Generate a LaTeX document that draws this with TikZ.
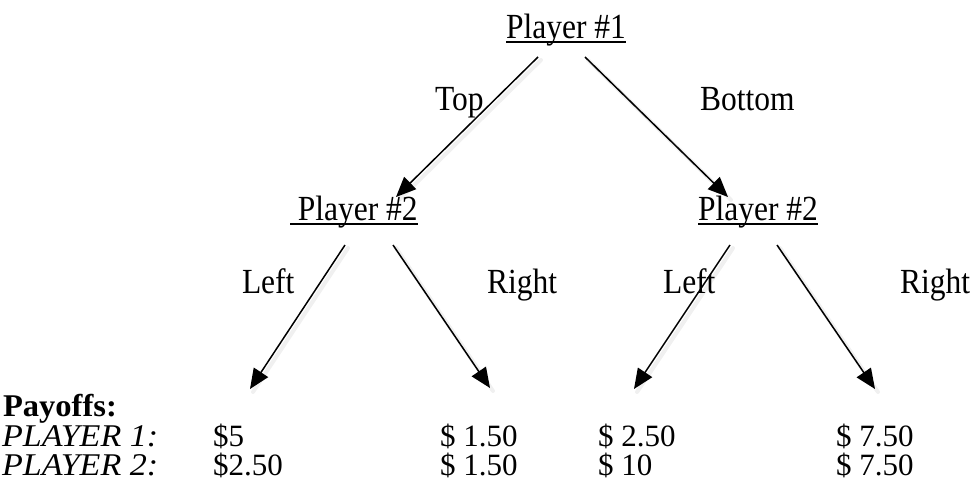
\documentclass[tikz,border=0pt]{standalone}
\usepackage{fontspec}
\setmainfont{Liberation Serif}
\usetikzlibrary{arrows.meta}
\newcommand{\tx}[1]{\scalebox{1}[1.12]{#1}}
\newcommand{\txi}[1]{\scalebox{1.1}[1.02]{#1}}
\begin{document}
\begin{tikzpicture}[x=1pt,y=-1pt,
  lbl/.style={anchor=base west,inner sep=0pt,outer sep=0pt,font=\fontsize{31.5}{36}\selectfont},
  pay/.style={anchor=base west,inner sep=0pt,outer sep=0pt,font=\fontsize{31}{36}\selectfont},
  ul/.style={line width=1.3pt},
  arr/.style={line width=1.5pt,-{Triangle[length=20pt,width=17pt]}},
  shad/.style={line width=4pt,draw=black,opacity=0.06,line cap=round}]
\useasboundingbox (0,0) rectangle (974,482);
% nodes
\node[lbl] (p1) at (506,38) {\tx{Player \#1}};
\node[lbl] (p2l) at (290,220) {\tx{\ Player \#2}};
\node[lbl] (p2r) at (698,220) {\tx{Player \#2}};
\draw[ul] ([yshift=-4pt]p1.base west) -- ([yshift=-4pt]p1.base east);
\draw[ul] ([yshift=-4pt]p2l.base west) -- ([yshift=-4pt]p2l.base east);
\draw[ul] ([yshift=-4pt]p2r.base west) -- ([yshift=-4pt]p2r.base east);
\node[lbl] (top) at (435,110) {\tx{Top}};
\node[lbl] (bot) at (700,110) {\tx{Bottom}};
\node[lbl] (l1) at (242,293) {\tx{Left}};
\node[lbl] (r1) at (487,293) {\tx{Right}};
\node[lbl] (l2) at (663,293) {\tx{Left}};
\node[lbl] (r2) at (900,293) {\tx{Right}};
\node[pay,font=\fontsize{31}{36}\selectfont\bfseries] (pyf) at (3,416) {\scalebox{1.05}[1.02]{Payoffs:}};
\node[pay,font=\fontsize{31}{36}\selectfont\itshape] (pl1) at (2,446) {\txi{PLAYER 1:}};
\node[pay,font=\fontsize{31}{36}\selectfont\itshape] (pl2) at (2,475) {\txi{PLAYER 2:}};
\node[pay] (a1) at (213,446) {\$5};
\node[pay] (a2) at (440,446) {\$ 1.50};
\node[pay] (a3) at (598,446) {\$ 2.50};
\node[pay] (a4) at (836,446) {\$ 7.50};
\node[pay] (b1) at (213,475) {\$2.50};
\node[pay] (b2) at (440,475) {\$ 1.50};
\node[pay] (b3) at (598,475) {\$ 10};
\node[pay] (b4) at (836,475) {\$ 7.50};
% arrow end points
\coordinate (s1) at (538,57);  \coordinate (e1) at (396,197);
\coordinate (s2) at (585,57);  \coordinate (e2) at (728,197);
\coordinate (s3) at (345,245); \coordinate (e3) at (250,389);
\coordinate (s4) at (393,245); \coordinate (e4) at (490,388);
\coordinate (s5) at (730,245); \coordinate (e5) at (634,389);
\coordinate (s6) at (777,245); \coordinate (e6) at (875,389);
% soft shadows
\foreach \s/\e in {s1/e1,s2/e2,s3/e3,s4/e4,s5/e5,s6/e6}{
  \draw[shad] ([shift={(3pt,-3pt)}]\s) -- ([shift={(3pt,-3pt)}]\e);
}
% arrows
\foreach \s/\e in {s1/e1,s2/e2,s3/e3,s4/e4,s5/e5,s6/e6}{
  \draw[arr] (\s) -- (\e);
}
\end{tikzpicture}
\end{document}
